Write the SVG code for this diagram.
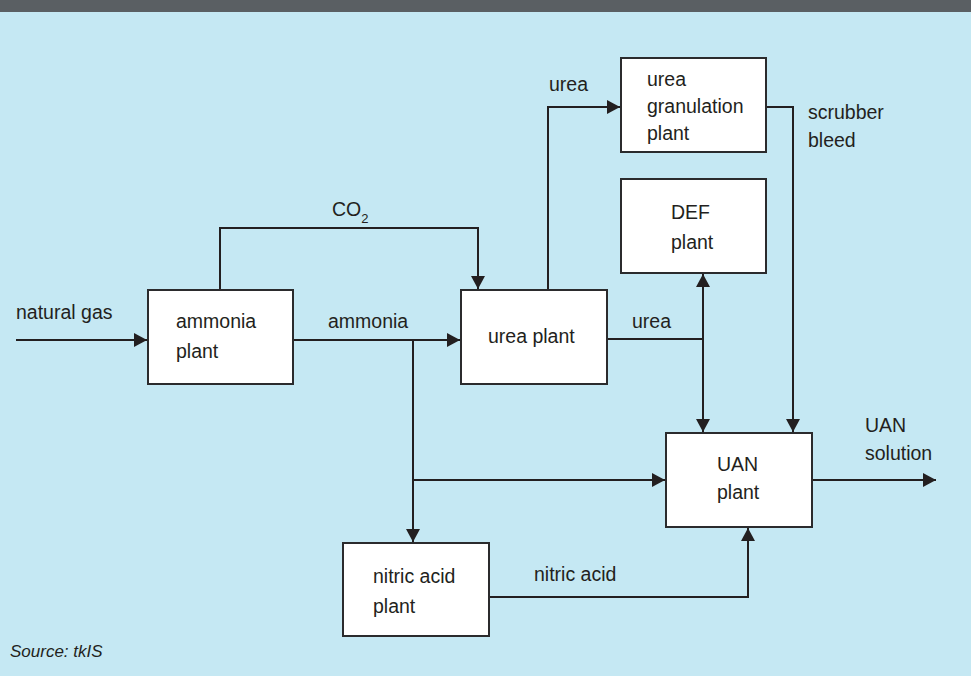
<svg xmlns="http://www.w3.org/2000/svg" width="971" height="676" viewBox="0 0 971 676">
<style>
.bg{fill:#c5e8f3}
.box{fill:#ffffff;stroke:#2b2b2d;stroke-width:2}
.ln{fill:none;stroke:#231f20;stroke-width:2}
text{font-family:"Liberation Sans",Arial,sans-serif;font-size:19.5px;fill:#231f20}
.src{font-style:italic;font-size:17px}
</style>
<defs>
<marker id="ah" markerUnits="userSpaceOnUse" markerWidth="14" markerHeight="14" viewBox="0 0 14 14" refX="13" refY="7" orient="auto">
<path d="M0,0 L13,7 L0,14 Z" fill="#231f20"/>
</marker>
</defs>
<rect class="bg" x="0" y="0" width="971" height="676"/>
<rect x="0" y="0" width="971" height="12" fill="#5a5f63"/>

<g id="connectors">
<line class="ln" x1="16" y1="340" x2="147" y2="340" marker-end="url(#ah)"/>
<polyline class="ln" points="220,290 220,228 478,228 478,289" marker-end="url(#ah)"/>
<line class="ln" x1="293" y1="340" x2="460" y2="340" marker-end="url(#ah)"/>
<line class="ln" x1="413" y1="340" x2="413" y2="542" marker-end="url(#ah)"/>
<line class="ln" x1="413" y1="480" x2="665" y2="480" marker-end="url(#ah)"/>
<polyline class="ln" points="548,290 548,107 620,107" marker-end="url(#ah)"/>
<line class="ln" x1="607" y1="339" x2="703" y2="339"/>
<line class="ln" x1="703" y1="339" x2="703" y2="274" marker-end="url(#ah)"/>
<line class="ln" x1="703" y1="339" x2="703" y2="432" marker-end="url(#ah)"/>
<polyline class="ln" points="766,107 793,107 793,432" marker-end="url(#ah)"/>
<polyline class="ln" points="489,597 748,597 748,528" marker-end="url(#ah)"/>
<line class="ln" x1="812" y1="480" x2="936" y2="480" marker-end="url(#ah)"/>
<text x="16" y="319">natural gas</text>
<text x="332" y="216">CO<tspan font-size="13" dy="7">2</tspan></text>
<text x="328" y="328">ammonia</text>
<text x="549" y="91">urea</text>
<text x="632" y="328">urea</text>
<text x="808" y="119">scrubber</text>
<text x="808" y="147">bleed</text>
<text x="865" y="432">UAN</text>
<text x="865" y="460">solution</text>
<text x="534" y="581">nitric acid</text>
</g>

<g id="ammonia-plant">
<rect class="box" x="148" y="290" width="145" height="94"/>
<text x="176" y="328">ammonia</text>
<text x="176" y="358">plant</text>
</g>
<g id="urea-plant">
<rect class="box" x="461" y="290" width="146" height="94"/>
<text x="488" y="343">urea plant</text>
</g>
<g id="urea-granulation-plant">
<rect class="box" x="621" y="58" width="145" height="94"/>
<text x="647" y="86">urea</text>
<text x="647" y="113">granulation</text>
<text x="647" y="140">plant</text>
</g>
<g id="def-plant">
<rect class="box" x="621" y="179" width="145" height="94"/>
<text x="671" y="219">DEF</text>
<text x="671" y="249">plant</text>
</g>
<g id="uan-plant">
<rect class="box" x="666" y="433" width="146" height="94"/>
<text x="717" y="471">UAN</text>
<text x="717" y="499">plant</text>
</g>
<g id="nitric-acid-plant">
<rect class="box" x="343" y="543" width="146" height="93"/>
<text x="373" y="583">nitric acid</text>
<text x="373" y="613">plant</text>
</g>
<text class="src" x="10" y="657">Source: tkIS</text>
</svg>
